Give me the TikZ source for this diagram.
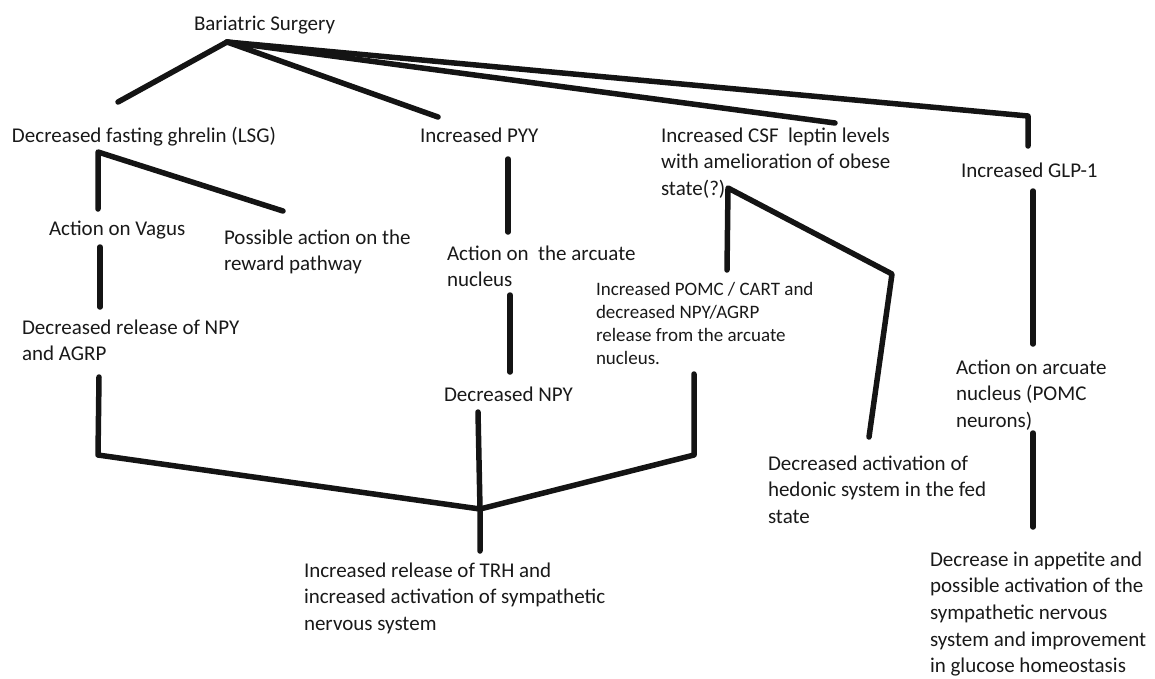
\documentclass[tikz,border=0pt]{standalone}
\usepackage{fontspec}
\setmainfont{Carlito}
\newcommand{\bigst}{\rule{0pt}{17pt}}
\newcommand{\smallst}{\rule{0pt}{15pt}}
\begin{document}
\begin{tikzpicture}[x=1pt,y=-1pt,
  lbl/.style={anchor=north west, inner sep=0pt, outer sep=0pt, align=left, text=black!90,
    font=\fontsize{21}{26.7}\selectfont},
  lblsmall/.style={lbl, font=\fontsize{19}{23.3}\selectfont},
  conn/.style={line width=5.5pt, line cap=round, line join=round, color=black!92}]
\useasboundingbox (0,0) rectangle (1155,678);

% texts
\node[lbl] (bs) at (194,13) {\bigst Bariatric Surgery};
\node[lbl] (ghr) at (12,125) {\bigst Decreased fasting ghrelin (LSG)};
\node[lbl] (pyy) at (420,125) {\bigst Increased PYY};
\node[lbl] (lep) at (661,125) {\bigst Increased CSF\ \ leptin levels\\with amelioration of obese\\state(?)};
\node[lbl] (glp) at (961,160) {\bigst Increased GLP-1};
\node[lbl] (vag) at (49,218) {\bigst Action on Vagus};
\node[lbl] (rew) at (224,227) {\bigst Possible action on the\\reward pathway};
\node[lbl] (npyagrp) at (22,317) {\bigst Decreased release of NPY\\and AGRP};
\node[lbl] (arc) at (447,243) {\bigst Action on\ \ the arcuate\\nucleus};
\node[lbl] (dnpy) at (444,384) {\bigst Decreased NPY};
\node[lblsmall] (pomc) at (596,280) {\smallst Increased POMC / CART and\\decreased NPY/AGRP\\release from the arcuate\\nucleus.};
\node[lbl] (arc2) at (956,357) {\bigst Action on arcuate\\nucleus (POMC\\neurons)};
\node[lbl] (hed) at (768,453) {\bigst Decreased activation of\\hedonic system in the fed\\state};
\node[lbl] (trh) at (304,560) {\bigst Increased release of TRH and\\increased activation of sympathetic\\nervous system};
\node[lbl] (app) at (930,549) {\bigst Decrease in appetite and\\possible activation of the\\sympathetic nervous\\system and improvement\\in glucose homeostasis};

% connector points
\coordinate (hub) at (227,42);
\coordinate (hubL) at (118,102);
\coordinate (hubP) at (438,117);
\coordinate (hubC) at (835,123);
\coordinate (hubG) at (1028,116);
\coordinate (hubG2) at (1028,146);
\coordinate (gA) at (98,152);
\coordinate (gB) at (98,209);
\coordinate (gC) at (283,211);
\coordinate (vA) at (100,247);
\coordinate (vB) at (100,307);
\coordinate (nA) at (99,377);
\coordinate (nB) at (98,455);
\coordinate (pA) at (508,159);
\coordinate (pB) at (508,232);
\coordinate (aA) at (510,295);
\coordinate (aB) at (510,372);
\coordinate (dA) at (478,412);
\coordinate (jn) at (480,509);
\coordinate (jB) at (480,551);
\coordinate (mA) at (694,374);
\coordinate (mB) at (694,455);
\coordinate (lA) at (728,188);
\coordinate (lB) at (727,270);
\coordinate (lC) at (892,274);
\coordinate (lD) at (869,437);
\coordinate (gl1) at (1033,191);
\coordinate (gl2) at (1033,344);
\coordinate (gl3) at (1033,433);
\coordinate (gl4) at (1033,527);

% connectors
\draw[conn] (hub) -- (hubL);
\draw[conn] (hub) -- (hubP);
\draw[conn] (hub) -- (hubC);
\draw[conn] (hub) -- (hubG) -- (hubG2);
\draw[conn] (gB) -- (gA) -- (gC);
\draw[conn] (vA) -- (vB);
\draw[conn] (nA) -- (nB) -- (jn) -- (mB) -- (mA);
\draw[conn] (dA) -- (jn) -- (jB);
\draw[conn] (pA) -- (pB);
\draw[conn] (aA) -- (aB);
\draw[conn] (lB) -- (lA) -- (lC) -- (lD);
\draw[conn] (gl1) -- (gl2);
\draw[conn] (gl3) -- (gl4);
\end{tikzpicture}
\end{document}
